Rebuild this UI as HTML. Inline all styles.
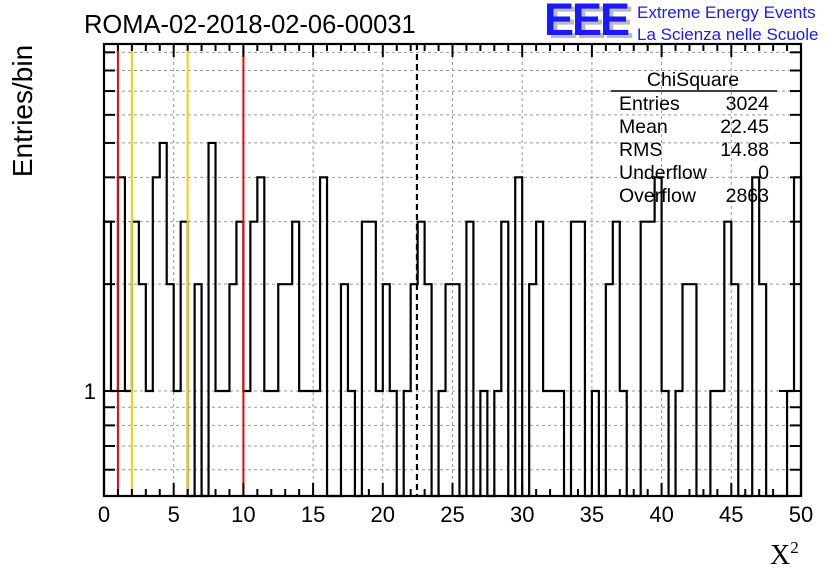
<!DOCTYPE html>
<html><head><meta charset="utf-8"><style>
body{margin:0;background:#fff}
svg{display:block;font-family:"Liberation Sans",sans-serif}
</style></head><body>
<svg id="c" width="836" height="572" viewBox="0 0 836 572" xmlns="http://www.w3.org/2000/svg">
<rect width="836" height="572" fill="#fff"/>
<text x="84" y="33" font-size="25.5">ROMA-02-2018-02-06-00031</text>
<g>
<text x="548" y="38" font-size="45" font-weight="bold" fill="#bbb" letter-spacing="-2">EEE</text>
<text x="544" y="35" font-size="45" font-weight="bold" fill="#1a1aff" letter-spacing="-2">EEE</text>
<text x="637" y="18" font-size="17" fill="#1a1aff">Extreme Energy Events</text>
<text x="637" y="40" font-size="17" fill="#1a1aff">La Scienza nelle Scuole</text>
</g>
<g id="grid"></g>
<g id="marks"></g>
<g id="axes"></g>
<g font-size="19.5">
<text x="693" y="86" text-anchor="middle">ChiSquare</text>
<line x1="611" y1="91" x2="777" y2="91" stroke="#000" stroke-width="1.5"/>
<text x="619" y="110">Entries</text><text x="769" y="110" text-anchor="end">3024</text>
<text x="619" y="133">Mean</text><text x="769" y="133" text-anchor="end">22.45</text>
<text x="619" y="156">RMS</text><text x="769" y="156" text-anchor="end">14.88</text>
<text x="619" y="179">Underflow</text><text x="769" y="179" text-anchor="end">0</text>
<text x="619" y="202">Overflow</text><text x="769" y="202" text-anchor="end">2863</text>
</g>
<text transform="translate(32,111) rotate(-90)" text-anchor="middle" font-size="28">Entries/bin</text>
<text x="770" y="564" font-size="28" font-family="Liberation Serif, serif">X<tspan font-size="17" dy="-11">2</tspan></text>
</svg>
<script>
const counts=[3,1,4,1,3,2,1,4,5,2,1,3,0,2,0,5,1,1,2,3,1,3,4,1,1,2,2,3,1,1,1,4,0,0,2,1,0,3,3,1,2,1,0,1,2,3,2,0,1,2,2,0,3,0,1,0,1,3,0,4,0,2,3,1,1,1,0,3,3,0,1,0,2,3,1,0,0,3,3,4,1,0,1,2,2,0,0,1,1,3,2,0,0,4,2,0,0,0,1,4];
const binWidth=0.5;
const xTicks=[0,5,10,15,20,25,30,35,40,45,50];
const yMinorLevels=[0.6,0.7,0.8,0.9,2,3,4,5,6,7,8,9];
const yMajorLevels=[1];
const redLines=[1,10];
const yellowLines=[2,6];
const meanLine=[22.45];
const L=104,R=801,T=44,B=496,X0=0,X1=50,YMIN=0.506,YMAX=9.5;
const NS="http://www.w3.org/2000/svg";
const sx=v=>L+(v-X0)/(X1-X0)*(R-L);
const sy=v=>v<=0?B:Math.min(B,B-(Math.log10(v)-Math.log10(YMIN))/(Math.log10(YMAX)-Math.log10(YMIN))*(B-T));
function mk(p,tag,a){const e=document.createElementNS(NS,tag);for(const k in a)e.setAttribute(k,a[k]);p.appendChild(e);return e;}
const grid=document.getElementById('grid'),marks=document.getElementById('marks'),axes=document.getElementById('axes');
xTicks.forEach(t=>{if(t>X0&&t<X1){const g=mk(grid,'line',{x1:sx(t),x2:sx(t),y1:T,y2:B,stroke:'#999','stroke-dasharray':'3,3','stroke-width':1});

}});
yMinorLevels.concat(yMajorLevels).forEach(v=>{const g=mk(grid,'line',{x1:L,x2:R,y1:sy(v),y2:sy(v),stroke:'#999','stroke-dasharray':'3,3','stroke-width':1});

});
let d='M'+sx(0)+','+B;
counts.forEach((c,i)=>{const x0=sx(i*binWidth),x1=sx((i+1)*binWidth),y=sy(c);d+=' L'+x0+','+y+' L'+x1+','+y;});
d+=' L'+sx(counts.length*binWidth)+','+B;
const h=mk(marks,'path',{d:d,fill:'none',stroke:'#000','stroke-width':2.2});


redLines.forEach(v=>{const l=mk(marks,'line',{x1:sx(v),x2:sx(v),y1:T,y2:B,stroke:'#ff0000','stroke-width':2});

});
yellowLines.forEach(v=>{const l=mk(marks,'line',{x1:sx(v),x2:sx(v),y1:T,y2:B,stroke:'#ffcc00','stroke-width':2});

});
meanLine.forEach(v=>{const l=mk(marks,'line',{x1:sx(v),x2:sx(v),y1:T,y2:B,stroke:'#000','stroke-width':2.2,'stroke-dasharray':'6,4'});

});
const f=mk(axes,'rect',{x:L,y:T,width:R-L,height:B-T,fill:'none',stroke:'#000','stroke-width':2.2});


for(let t=X0;t<=X1;t++){const len=(t%5===0)?13:7;
mk(axes,'line',{x1:sx(t),x2:sx(t),y1:B,y2:B-len,stroke:'#000','stroke-width':2});
mk(axes,'line',{x1:sx(t),x2:sx(t),y1:T,y2:T+len,stroke:'#000','stroke-width':2});}
xTicks.forEach(t=>{const tx=mk(axes,'text',{x:sx(t),y:522,'font-size':22,'text-anchor':'middle'});tx.textContent=t;

});
yMinorLevels.forEach(v=>{mk(axes,'line',{x1:L,x2:L+11,y1:sy(v),y2:sy(v),stroke:'#000','stroke-width':2});mk(axes,'line',{x1:R,x2:R-11,y1:sy(v),y2:sy(v),stroke:'#000','stroke-width':2});});
yMajorLevels.forEach(v=>{mk(axes,'line',{x1:L,x2:L+22,y1:sy(v),y2:sy(v),stroke:'#000','stroke-width':2});mk(axes,'line',{x1:R,x2:R-22,y1:sy(v),y2:sy(v),stroke:'#000','stroke-width':2});
const tx=mk(axes,'text',{x:96,y:sy(v)+8,'font-size':22,'text-anchor':'end'});tx.textContent=v;

});
</script>
</body></html>
